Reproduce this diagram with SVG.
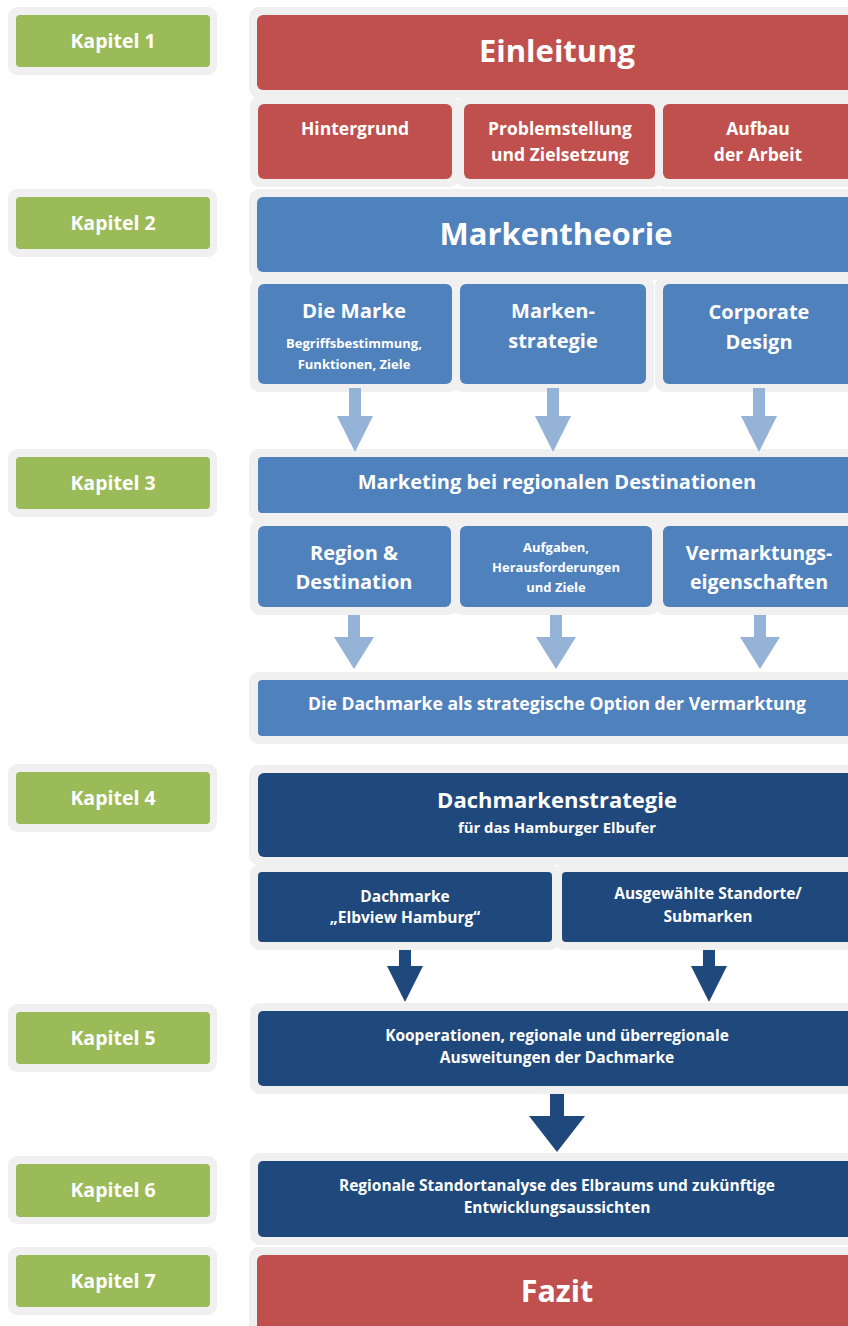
<svg xmlns="http://www.w3.org/2000/svg" width="848" height="1326" viewBox="0 0 848 1326">
<style>
.bg{fill:#F0F0F0}
.gr{fill:#9BBB59}
.rd{fill:#C0504D}
.bl{fill:#4F81BD}
.db{fill:#1F497D}
.la{fill:#95B3D7}
.da{fill:#1F497D}
text{font-family:"Open Sans","Noto Sans","Liberation Sans",sans-serif;font-weight:bold;fill:#FFFFFF;text-anchor:middle}
.k{font-size:19.5px}
</style>
<rect width="848" height="1326" fill="#FFFFFF"/>
<!-- Kapitel labels -->
<g id="kapitel1"><rect class="bg" x="8" y="7" width="209" height="68" rx="9"/><rect class="gr" x="16" y="15" width="194" height="52" rx="4"/><text class="k" x="113" y="48">Kapitel 1</text></g>
<g id="kapitel2"><rect class="bg" x="8" y="189" width="209" height="68" rx="9"/><rect class="gr" x="16" y="197" width="194" height="52" rx="4"/><text class="k" x="113" y="230">Kapitel 2</text></g>
<g id="kapitel3"><rect class="bg" x="8" y="449" width="209" height="68" rx="9"/><rect class="gr" x="16" y="457" width="194" height="52" rx="4"/><text class="k" x="113" y="490">Kapitel 3</text></g>
<g id="kapitel4"><rect class="bg" x="8" y="764" width="209" height="68" rx="9"/><rect class="gr" x="16" y="772" width="194" height="52" rx="4"/><text class="k" x="113" y="805">Kapitel 4</text></g>
<g id="kapitel5"><rect class="bg" x="8" y="1004" width="209" height="68" rx="9"/><rect class="gr" x="16" y="1012" width="194" height="52" rx="4"/><text class="k" x="113" y="1045">Kapitel 5</text></g>
<g id="kapitel6"><rect class="bg" x="8" y="1156" width="209" height="68" rx="9"/><rect class="gr" x="16" y="1164" width="194" height="53" rx="4"/><text class="k" x="113" y="1197">Kapitel 6</text></g>
<g id="kapitel7"><rect class="bg" x="8" y="1247" width="209" height="68" rx="9"/><rect class="gr" x="16" y="1255" width="194" height="52" rx="4"/><text class="k" x="113" y="1288">Kapitel 7</text></g>

<!-- Kapitel 1 -->
<g id="einleitung"><rect class="bg" x="249" y="7" width="620" height="91" rx="10"/><rect class="rd" x="257" y="15" width="610" height="75" rx="6"/><text x="557" y="62" font-size="31">Einleitung</text></g>
<g id="hintergrund"><rect class="bg" x="250" y="96" width="210" height="91" rx="10"/><rect class="rd" x="258" y="104" width="194" height="75" rx="6"/><text x="355" y="135" font-size="17.5">Hintergrund</text></g>
<g id="problemstellung"><rect class="bg" x="456" y="96" width="207" height="91" rx="10"/><rect class="rd" x="464" y="104" width="191" height="75" rx="6"/><text x="560" y="135" font-size="17.5">Problemstellung</text><text x="560" y="161" font-size="17.5">und Zielsetzung</text></g>
<g id="aufbau"><rect class="bg" x="655" y="96" width="214" height="91" rx="10"/><rect class="rd" x="663" y="104" width="200" height="75" rx="6"/><text x="758" y="135" font-size="17.5">Aufbau</text><text x="758" y="161" font-size="17.5">der Arbeit</text></g>

<!-- Kapitel 2 -->
<g id="markentheorie"><rect class="bg" x="249" y="189" width="620" height="91" rx="10"/><rect class="bl" x="257" y="197" width="610" height="75" rx="6"/><text x="556" y="245" font-size="31">Markentheorie</text></g>
<g id="diemarke"><rect class="bg" x="250" y="276" width="210" height="116" rx="10"/><rect class="bl" x="258" y="284" width="194" height="100" rx="6"/><text x="354" y="318" font-size="20.4">Die Marke</text><text x="354" y="348" font-size="13">Begriffsbestimmung,</text><text x="354" y="369" font-size="13">Funktionen, Ziele</text></g>
<g id="markenstrategie"><rect class="bg" x="452" y="276" width="202" height="116" rx="10"/><rect class="bl" x="460" y="284" width="186" height="100" rx="6"/><text x="553" y="318" font-size="20">Marken-</text><text x="553" y="348" font-size="20">strategie</text></g>
<g id="corporatedesign"><rect class="bg" x="655" y="276" width="214" height="116" rx="10"/><rect class="bl" x="663" y="284" width="200" height="100" rx="6"/><text x="759" y="319" font-size="20">Corporate</text><text x="759" y="349" font-size="20">Design</text></g>

<!-- Kapitel 3 -->
<g id="marketing"><rect class="bg" x="249" y="449" width="620" height="72" rx="10"/><rect class="bl" x="258" y="457" width="610" height="56" rx="4"/><text x="557" y="489" font-size="20">Marketing bei regionalen Destinationen</text></g>
<g id="region"><rect class="bg" x="250" y="518" width="209" height="97" rx="10"/><rect class="bl" x="258" y="526" width="193" height="81" rx="6"/><text x="354" y="560" font-size="20">Region &amp;</text><text x="354" y="589" font-size="20">Destination</text></g>
<g id="aufgaben"><rect class="bg" x="452" y="518" width="208" height="97" rx="10"/><rect class="bl" x="460" y="526" width="192" height="81" rx="6"/><text x="556" y="552" font-size="13">Aufgaben,</text><text x="556" y="572" font-size="13">Herausforderungen</text><text x="556" y="592" font-size="13">und Ziele</text></g>
<g id="vermarktung"><rect class="bg" x="655" y="518" width="214" height="97" rx="10"/><rect class="bl" x="663" y="526" width="200" height="81" rx="6"/><text x="759" y="560" font-size="19.6">Vermarktungs-</text><text x="759" y="589" font-size="19.6">eigenschaften</text></g>
<g id="dachmarkeoption"><rect class="bg" x="249" y="672" width="620" height="72" rx="10"/><rect class="bl" x="258" y="680" width="610" height="56" rx="4"/><text x="557" y="710" font-size="17.6">Die Dachmarke als strategische Option der Vermarktung</text></g>

<!-- Kapitel 4 -->
<g id="dachmarkenstrategie"><rect class="bg" x="249" y="765" width="620" height="100" rx="10"/><rect class="db" x="258" y="773" width="610" height="84" rx="6"/><text x="557" y="808" font-size="22">Dachmarkenstrategie</text><text x="557" y="833" font-size="14.9">für das Hamburger Elbufer</text></g>
<g id="elbview"><rect class="bg" x="250" y="864" width="310" height="86" rx="10"/><rect class="db" x="258" y="872" width="294" height="70" rx="4"/><text x="405" y="902" font-size="15.5">Dachmarke</text><text x="405" y="923" font-size="15.5">„Elbview Hamburg“</text></g>
<g id="standorte"><rect class="bg" x="554" y="864" width="315" height="86" rx="10"/><rect class="db" x="562" y="872" width="300" height="70" rx="4"/><text x="708" y="899" font-size="15.5">Ausgewählte Standorte/</text><text x="708" y="922" font-size="15.5">Submarken</text></g>

<!-- Kapitel 5 -->
<g id="kooperationen"><rect class="bg" x="250" y="1003" width="620" height="91" rx="10"/><rect class="db" x="258" y="1011" width="610" height="75" rx="5"/><text x="557" y="1041" font-size="15.5">Kooperationen, regionale und überregionale</text><text x="557" y="1063" font-size="15.5">Ausweitungen der Dachmarke</text></g>

<!-- Kapitel 6 -->
<g id="standortanalyse"><rect class="bg" x="250" y="1153" width="620" height="92" rx="10"/><rect class="db" x="258" y="1161" width="610" height="76" rx="5"/><text x="557" y="1191" font-size="15.5">Regionale Standortanalyse des Elbraums und zukünftige</text><text x="557" y="1213" font-size="15.5">Entwicklungsaussichten</text></g>

<!-- Kapitel 7 -->
<g id="fazit"><rect class="bg" x="249" y="1247" width="620" height="100" rx="10"/><rect class="rd" x="257" y="1255" width="610" height="90" rx="6"/><text x="557" y="1302" font-size="30.5">Fazit</text></g>

<!-- connectors -->
<g id="connectors">
<path class="la" d="M349 388h12v28h12l-18 36l-18-36h12z"/>
<path class="la" d="M547 388h12v28h12l-18 36l-18-36h12z"/>
<path class="la" d="M753 388h12v28h12l-18 36l-18-36h12z"/>
<path class="la" d="M348 615h12v22h14l-20 32l-20-32h14z"/>
<path class="la" d="M550 615h12v22h14l-20 32l-20-32h14z"/>
<path class="la" d="M754 615h12v22h14l-20 32l-20-32h14z"/>
<path class="da" d="M399 950h12v16h12l-18 36l-18-36h12z"/>
<path class="da" d="M703 950h12v16h12l-18 36l-18-36h12z"/>
<path class="da" d="M550 1094h14v22h21l-28 36l-28-36h21z"/>
</g>
</svg>
